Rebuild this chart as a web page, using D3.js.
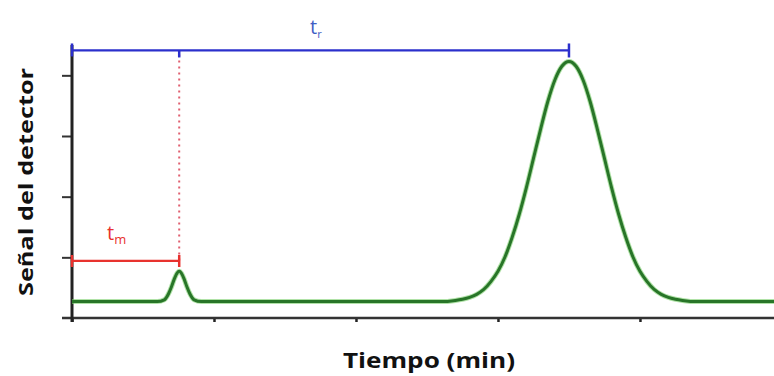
<!DOCTYPE html>
<html><head><meta charset="utf-8">
<script src="https://cdn.jsdelivr.net/npm/d3@7"></script>
<style>body{margin:0;background:#fff}svg{display:block}</style>
</head><body>
<svg id="c" width="774" height="376"></svg>
<script>
// Data (time in min, detector signal in arbitrary units)
const time = [0.00, 0.55, 0.60, 0.65, 0.68, 0.70, 0.72, 0.74, 0.755, 0.77, 0.79, 0.81, 0.83, 0.86, 0.91, 1.00,
  2.00, 2.50, 2.60, 2.70, 2.75, 2.80, 2.85, 2.90, 2.95, 3.00, 3.05, 3.10, 3.15, 3.20, 3.25, 3.30, 3.35, 3.40, 3.45, 3.50,
  3.55, 3.60, 3.65, 3.70, 3.75, 3.80, 3.85, 3.90, 3.95, 4.00, 4.05, 4.10, 4.15, 4.20, 4.25, 4.30, 4.40, 4.50, 4.944];
const signal = [0.27, 0.27, 0.27, 0.30, 0.40, 0.51, 0.64, 0.74, 0.77, 0.74, 0.64, 0.51, 0.40, 0.30, 0.27, 0.27,
  0.27, 0.27, 0.27, 0.29, 0.31, 0.34, 0.39, 0.47, 0.60, 0.77, 1.01, 1.33, 1.71, 2.15, 2.63, 3.11, 3.56, 3.92, 4.15, 4.23,
  4.15, 3.92, 3.56, 3.11, 2.63, 2.15, 1.71, 1.33, 1.01, 0.77, 0.60, 0.47, 0.39, 0.34, 0.31, 0.29, 0.27, 0.27, 0.27];
const xTicks = [0, 1, 2, 3, 4];
const yTicks = [0, 1, 2, 3, 4];
const tM = 0.755;      // dead time
const tR = 3.50;       // retention time
const tRLevel = 4.41;  // height of t_r bracket
const tMLevel = 0.94;  // height of t_m bracket
const xLabel = "Tiempo (min)";
const yLabel = "Señal del detector";

const svg = d3.select("#c");
const x = d3.scaleLinear().domain([0, 4.944]).range([72, 774]);
const y = d3.scaleLinear().domain([0, 4.5]).range([318, 45]);

// Axes
const xAxis = d3.axisBottom(x).tickValues(xTicks).tickSize(4).tickFormat("");
const gx = svg.append("g").attr("transform", `translate(0,${y(0)})`).call(xAxis);
gx.select(".domain").remove();
gx.selectAll(".tick line").attr("stroke", "#222").attr("stroke-width", 2.5);
gx.append("line").attr("x1", 62).attr("x2", 774).attr("y1", 0).attr("y2", 0)
  .attr("stroke", "#333").attr("stroke-width", 2.5);

const yAxis = d3.axisLeft(y).tickValues(yTicks.slice(1)).tickSize(10).tickFormat("");
const gy = svg.append("g").attr("transform", `translate(${x(0)},0)`).call(yAxis);
gy.select(".domain").remove();
gy.selectAll(".tick line").attr("stroke", "#333").attr("stroke-width", 2);
gy.append("line").attr("x1", 0).attr("x2", 0).attr("y1", y(4.5)).attr("y2", y(0) + 4)
  .attr("stroke", "#222").attr("stroke-width", 3);

// Axis labels
svg.append("text").attr("x", 429).attr("y", 368).attr("text-anchor", "middle")
  .attr("font-family", "Open Sans, sans-serif").attr("font-weight", "bold").attr("font-size", 22)
  .attr("textLength", 172).attr("lengthAdjust", "spacingAndGlyphs")
  .attr("fill", "#111").text(xLabel);
svg.append("text").attr("transform", "translate(33,182) rotate(-90)").attr("text-anchor", "middle")
  .attr("font-family", "Open Sans, sans-serif").attr("font-weight", "bold").attr("font-size", 20)
  .attr("textLength", 228).attr("lengthAdjust", "spacingAndGlyphs")
  .attr("fill", "#111").text(yLabel);

// Chromatogram
const pts = time.map((t, i) => [t, signal[i]]);
const line = d3.line().x(d => x(d[0])).y(d => y(d[1])).curve(d3.curveMonotoneX);
svg.append("path").attr("d", line(pts)).attr("fill", "none").attr("stroke", "#7ccf6c")
  .attr("stroke-width", 5).attr("stroke-opacity", 0.6);
svg.append("path").attr("d", line(pts)).attr("fill", "none").attr("stroke", "#287528")
  .attr("stroke-width", 3);

// t_m dotted marker
const red = "#e8322e", blue = "#2b2fcc";
svg.append("line").attr("x1", x(tM)).attr("x2", x(tM)).attr("y1", y(tRLevel) + 4).attr("y2", y(tMLevel))
  .attr("stroke", "#e06070").attr("stroke-width", 2).attr("stroke-dasharray", "2,4");

// t_r bracket
svg.append("line").attr("x1", x(0)).attr("x2", x(tR)).attr("y1", y(tRLevel)).attr("y2", y(tRLevel))
  .attr("stroke", blue).attr("stroke-width", 2.2);
[[0, -7, 6], [tR, -7, 7], [tM, 0, 7]].forEach(([t, a, b]) => {
  svg.append("line").attr("x1", x(t)).attr("x2", x(t)).attr("y1", y(tRLevel) + a).attr("y2", y(tRLevel) + b)
    .attr("stroke", blue).attr("stroke-width", 2.5);
});
const tr = svg.append("text").attr("x", 310).attr("y", 34).attr("font-family", "Open Sans, sans-serif")
  .attr("font-size", 20).attr("fill", "#3f5ec4");
tr.append("tspan").text("t");
tr.append("tspan").attr("font-size", 11).attr("dy", 4).text("r");

// t_m bracket
svg.append("line").attr("x1", x(0)).attr("x2", x(tM)).attr("y1", y(tMLevel)).attr("y2", y(tMLevel))
  .attr("stroke", red).attr("stroke-width", 2.2);
[0, tM].forEach(t => {
  svg.append("line").attr("x1", x(t)).attr("x2", x(t)).attr("y1", y(tMLevel) - 6).attr("y2", y(tMLevel) + 6)
    .attr("stroke", red).attr("stroke-width", 2.5);
});
const tm = svg.append("text").attr("x", 107).attr("y", 240).attr("font-family", "Open Sans, sans-serif")
  .attr("font-size", 20).attr("fill", red);
tm.append("tspan").text("t");
tm.append("tspan").attr("font-size", 13).attr("dy", 4).text("m");
</script>
</body></html>
